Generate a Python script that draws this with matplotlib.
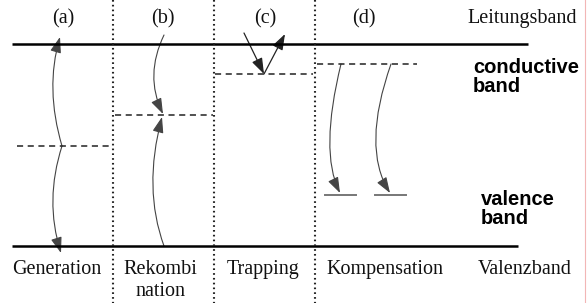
import matplotlib
matplotlib.use("Agg")
import matplotlib.pyplot as plt
from matplotlib.patches import FancyArrowPatch
from matplotlib.path import Path

# canvas in pixel units (y grows downward)
W, H = 587, 303

# band edges
band_y = [44, 246]
band_x = [(12, 528), (12, 518)]

# column separators
sep_x = [113, 214, 315]

# dashed trap levels per column: (x0, x1, y)
levels = [(17, 110, 146), (115, 213, 115), (215, 313, 74), (317, 417, 64)]

# short acceptor levels in (d)
acc_levels = [(325, 356, 195), (375, 406, 195)]

# curved transitions: start, bow point, tip
curves = [
    ((62, 146), (53, 90), (60, 37)),
    ((62, 146), (53, 200), (61, 253)),
    ((164, 35), (154, 75), (163, 114)),
    ((164, 246), (153, 185), (162, 117)),
    ((341, 64), (330, 140), (340, 193)),
    ((391, 64), (376, 138), (390, 193)),
]
# straight transitions in (c)
straight = [((244, 33), (264, 74)), ((264, 74), (285, 34))]

col_tags = ["(a)", "(b)", "(c)", "(d)"]
col_tag_x = [63, 163, 265, 364]
bottom_labels = ["Generation", "Rekombi\nnation", "Trapping", "Kompensation", "Valenzband"]
bottom_x = [57, 160, 263, 385, 525]

fig = plt.figure(figsize=(W / 100, H / 100), dpi=100)
ax = fig.add_axes([0, 0, 1, 1])
ax.set_xlim(0, W)
ax.set_ylim(H, 0)
ax.axis("off")

for y, (x0, x1) in zip(band_y, band_x):
    ax.plot([x0, x1], [y, y], color="black", lw=1.8, solid_capstyle="butt")

for x in sep_x:
    ax.plot([x, x], [0, H], color="#222", lw=1.5, linestyle=(0, (0.8, 1.5)))

for x0, x1, y in levels:
    ax.plot([x0, x1], [y, y], color="#222", lw=1.1, dashes=(4, 3))

for x0, x1, y in acc_levels:
    ax.plot([x0, x1], [y, y], color="#777", lw=1.4)

for p0, mid, p2 in curves:
    cx = 2 * mid[0] - 0.5 * (p0[0] + p2[0])
    cy = 2 * mid[1] - 0.5 * (p0[1] + p2[1])
    path = Path([p0, (cx, cy), p2], [Path.MOVETO, Path.CURVE3, Path.CURVE3])
    arr = FancyArrowPatch(path=path, arrowstyle="-|>,head_length=0.8,head_width=0.28",
                          mutation_scale=12, color="#444", lw=0.8)
    ax.add_patch(arr)

for p0, p1 in straight:
    arr = FancyArrowPatch(p0, p1, arrowstyle="-|>,head_length=0.8,head_width=0.28",
                          mutation_scale=12, color="#222", lw=0.9,
                          shrinkA=0, shrinkB=0)
    ax.add_patch(arr)

serif = "Liberation Serif"
for t, x in zip(col_tags, col_tag_x):
    ax.text(x, 19, t, ha="center", va="center", family=serif, fontsize=14.5, color="#111")
ax.text(522, 19, "Leitungsband", ha="center", va="center", family=serif, fontsize=14.5,
        color="#111")

for t, x in zip(bottom_labels, bottom_x):
    ax.text(x, 260, t, ha="center", va="top", family=serif, fontsize=14.5,
            color="#111", linespacing=1.2)

ax.text(473, 58, "conductive\nband", ha="left", va="top", family="Liberation Sans",
        fontweight="bold", fontsize=14.5, linespacing=1.0)
ax.text(481, 190, "valence\nband", ha="left", va="top", family="Liberation Sans",
        fontweight="bold", fontsize=14.5, linespacing=1.0)

ax.plot([585, 585], [0, H], color="#f2b6b6", lw=0.8)

fig.savefig("out.png", dpi=100)
